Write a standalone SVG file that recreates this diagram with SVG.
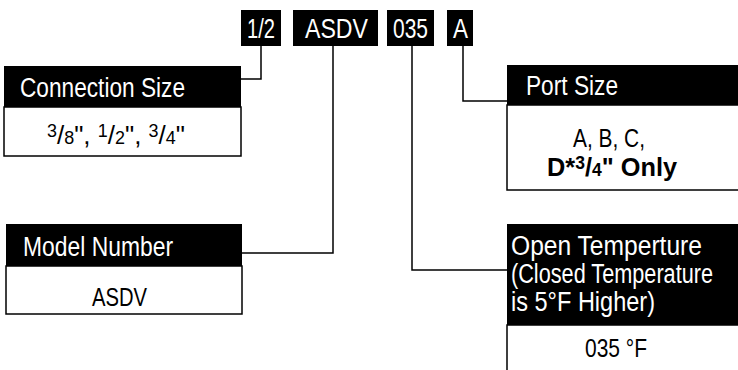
<svg xmlns="http://www.w3.org/2000/svg" width="738" height="370" viewBox="0 0 738 370">
<style>
.hdr{fill:#000}
.body{fill:#fff;stroke:#000;stroke-width:1.5}
.ht{font-family:"Liberation Sans",Arial,sans-serif;font-size:27px;fill:#fff}
.bt{font-family:"Liberation Sans",Arial,sans-serif;font-size:26px;fill:#000}
.ct{font-family:"Liberation Sans",Arial,sans-serif;font-size:28px;fill:#fff}
.fr{font-size:18px}
.con{fill:none;stroke:#000;stroke-width:1.5}
</style>
<rect width="738" height="370" fill="#fff"/>
<g id="connectors">
<path class="con" d="M261,46 V79 H241"/>
<path class="con" d="M333,46 V253 H242"/>
<path class="con" d="M412,46 V270 H507"/>
<path class="con" d="M463,46 V101 H507"/>
</g>
<g id="code-size"><rect class="hdr" x="241" y="10" width="40" height="36"/><text class="ct" x="247" y="38" textLength="28" lengthAdjust="spacingAndGlyphs">1/2</text></g>
<g id="code-model"><rect class="hdr" x="293" y="10" width="85" height="36"/><text class="ct" x="305" y="38" textLength="63" lengthAdjust="spacingAndGlyphs">ASDV</text></g>
<g id="code-temp"><rect class="hdr" x="387" y="10" width="47" height="36"/><text class="ct" x="393" y="38" textLength="35" lengthAdjust="spacingAndGlyphs">035</text></g>
<g id="code-port"><rect class="hdr" x="447" y="10" width="26" height="36"/><text class="ct" x="453" y="38" textLength="15" lengthAdjust="spacingAndGlyphs">A</text></g>
<g id="connection-size">
<rect class="body" x="4" y="107" width="237" height="49"/>
<rect class="hdr" x="4" y="66" width="237" height="41"/>
<text class="ht" x="20" y="97" textLength="165" lengthAdjust="spacingAndGlyphs">Connection Size</text>
<text class="bt" x="47" y="144" textLength="138" lengthAdjust="spacingAndGlyphs"><tspan class="fr" dy="-7">3</tspan><tspan dy="7">/</tspan><tspan class="fr">8</tspan>", <tspan class="fr" dy="-7">1</tspan><tspan dy="7">/</tspan><tspan class="fr">2</tspan>", <tspan class="fr" dy="-7">3</tspan><tspan dy="7">/</tspan><tspan class="fr">4</tspan>"</text>
</g>
<g id="model-number">
<rect class="body" x="6" y="266" width="236" height="48"/>
<rect class="hdr" x="6" y="224" width="236" height="42"/>
<text class="ht" x="23" y="256" textLength="150" lengthAdjust="spacingAndGlyphs">Model Number</text>
<text class="bt" x="92" y="306" textLength="55" lengthAdjust="spacingAndGlyphs">ASDV</text>
</g>
<g id="port-size">
<rect class="body" x="507" y="105" width="240" height="85"/>
<rect class="hdr" x="507" y="65" width="240" height="40"/>
<text class="ht" x="526" y="95" textLength="92" lengthAdjust="spacingAndGlyphs">Port Size</text>
<text class="bt" x="573" y="147" textLength="72" lengthAdjust="spacingAndGlyphs">A, B, C,</text>
<text class="bt" x="547" y="176" font-weight="bold" textLength="130" lengthAdjust="spacingAndGlyphs">D*<tspan class="fr" dy="-7">3</tspan><tspan dy="7">/</tspan><tspan class="fr">4</tspan>"  Only</text>
</g>
<g id="open-temperature">
<rect class="body" x="507" y="325" width="240" height="60"/>
<rect class="hdr" x="507" y="224" width="240" height="101"/>
<text class="ht" x="511" y="255" textLength="191" lengthAdjust="spacingAndGlyphs">Open Temperture</text>
<text class="ht" x="511" y="283" textLength="202" lengthAdjust="spacingAndGlyphs">(Closed Temperature</text>
<text class="ht" x="511" y="311" textLength="144" lengthAdjust="spacingAndGlyphs">is 5°F Higher)</text>
<text class="bt" x="585" y="357" textLength="62" lengthAdjust="spacingAndGlyphs">035 °F</text>
</g>
</svg>
